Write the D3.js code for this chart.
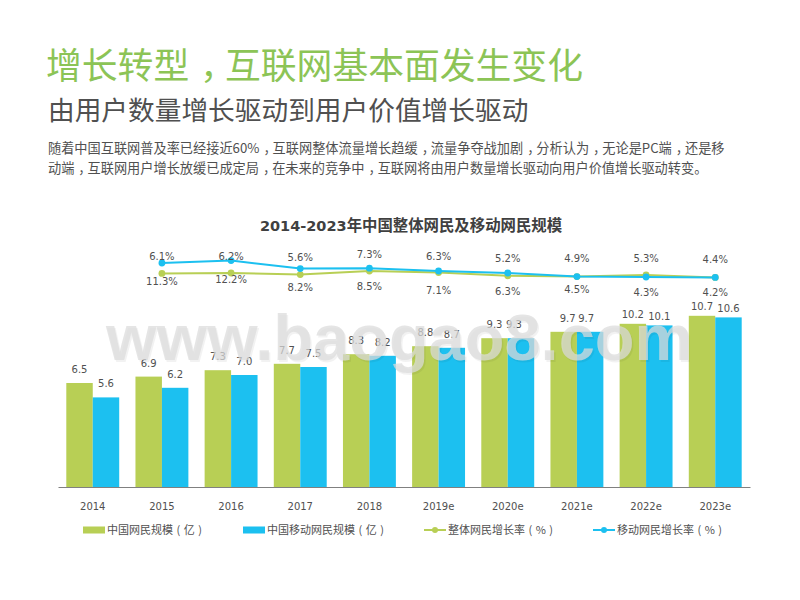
<!DOCTYPE html>
<html>
<head>
<meta charset="utf-8">
<script src="https://cdn.jsdelivr.net/npm/d3@7"></script>
<style>
  html, body { margin: 0; padding: 0; background: #fff; }
  svg { display: block; }
  text { font-family: "Noto Sans CJK SC", "DejaVu Sans", sans-serif; }
  .num { font-family: "DejaVu Sans", sans-serif; font-size: 10px; fill: #505050; }
</style>
</head>
<body>
<div id="chart"></div>
<script>
const years = ['2014', '2015', '2016', '2017', '2018', '2019e', '2020e', '2021e', '2022e', '2023e'];
const netUsers = [6.5, 6.9, 7.3, 7.7, 8.3, 8.8, 9.3, 9.7, 10.2, 10.7];
const mobileUsers = [5.6, 6.2, 7.0, 7.5, 8.2, 8.7, 9.3, 9.7, 10.1, 10.6];
const netLabelDx = [0, 0, 0, 0, 0, 0, 0, 4, 0, 0];
const mobileLabelDx = [0, 0, 0, 0, 0, 0, -7, -4, 0, 0];
const lineYears = ['2015', '2016', '2017', '2018', '2019e', '2020e', '2021e', '2022e', '2023e'];
const netRateLabels = ['11.3%', '12.2%', '8.2%', '8.5%', '7.1%', '6.3%', '4.5%', '4.3%', '4.2%'];
const mobileRateLabels = ['6.1%', '6.2%', '5.6%', '7.3%', '6.3%', '5.2%', '4.9%', '5.3%', '4.4%'];
// heights of the two lines as drawn, they do not follow the printed rates
const netRateLine = [2.9, 3.0, 2.6, 3.5, 3.1, 2.3, 2.1, 2.5, 1.9];
const mobileRateLine = [5.5, 6.1, 4.1, 4.2, 3.5, 3.0, 2.1, 2.0, 1.9];
const netLabelDy = [12, 10, 16, 19, 21, 19, 16, 21, 19];
const mobileLabelDy = [-3, -1, -8, -10, -11, -11, -15, -15, -14];

const green = '#b8cf55';
const blue = '#1cc0f0';

const width = 800;
const height = 600;
const margin = { left: 58, right: 50, bottom: 113 };

const svg = d3.select('#chart').append('svg')
  .attr('width', width)
  .attr('height', height);

// the reference centres its full-width commas in the cell
const headerText = (x, y, size, color, str) => {
  const t = svg.append('text').attr('x', x).attr('y', y)
    .attr('font-size', size).attr('fill', color);
  str.split('，').forEach((part, i) => {
    if (i > 0) t.append('tspan').attr('dx', size * 0.3).text('，');
    t.append('tspan').attr('dx', i > 0 ? -size * 0.3 : 0).text(part);
  });
};

headerText(46, 79, 35.8, '#8cc456', '增长转型，互联网基本面发生变化');
headerText(48, 120, 26.7, '#505050', '由用户数量增长驱动到用户价值增长驱动');
headerText(48, 153, 13.2, '#505050', '随着中国互联网普及率已经接近60%，互联网整体流量增长趋缓，流量争夺战加剧，分析认为，无论是PC端，还是移');
headerText(48, 173, 13.2, '#505050', '动端，互联网用户增长放缓已成定局，在未来的竞争中，互联网将由用户数量增长驱动向用户价值增长驱动转变。');

const chartTitle = svg.append('text').attr('x', 411).attr('y', 231)
  .attr('text-anchor', 'middle')
  .attr('font-weight', 'bold').attr('fill', '#404040');
chartTitle.append('tspan').attr('font-size', 14.5)
  .style('font-family', '"DejaVu Sans", sans-serif')
  .text('2014-2023');
chartTitle.append('tspan').attr('font-size', 15.4)
  .text('年中国整体网民及移动网民规模');

// bars
const xScale = d3.scaleBand()
  .domain(years)
  .range([margin.left, width - margin.right])
  .paddingInner(0.235)
  .paddingOuter(0.12);
const xSeries = d3.scaleBand()
  .domain(['net', 'mobile'])
  .range([0, xScale.bandwidth()]);
const yScale = d3.scaleLinear()
  .domain([0, 12])
  .range([height - margin.bottom, height - margin.bottom - 192]);

const groups = [
  { key: 'net', values: netUsers, color: green, dx: netLabelDx },
  { key: 'mobile', values: mobileUsers, color: blue, dx: mobileLabelDx }
];

groups.forEach(s => {
  svg.selectAll('.bar-' + s.key)
    .data(s.values)
    .enter()
    .append('rect')
    .attr('class', 'bar-' + s.key)
    .attr('x', (d, i) => xScale(years[i]) + xSeries(s.key))
    .attr('y', d => yScale(d))
    .attr('width', xSeries.bandwidth())
    .attr('height', d => yScale(0) - yScale(d))
    .attr('fill', s.color);

  svg.selectAll('.bar-label-' + s.key)
    .data(s.values)
    .enter()
    .append('text')
    .attr('class', 'num')
    .attr('x', (d, i) => xScale(years[i]) + xSeries(s.key) + xSeries.bandwidth() / 2 + s.dx[i])
    .attr('y', d => yScale(d) - (d >= 10 ? 5.5 : 10))
    .attr('text-anchor', 'middle')
    .text(d => d.toFixed(1));
});

// x axis
const xAxis = d3.axisBottom(xScale).tickSize(0).tickPadding(16);
const axisG = svg.append('g')
  .attr('transform', `translate(0,${yScale(0)})`)
  .call(xAxis);
axisG.select('.domain').attr('stroke', '#808080').attr('stroke-width', 1);
axisG.selectAll('text')
  .attr('class', 'num')
  .style('font-family', '"DejaVu Sans", sans-serif')
  .style('font-size', '10px');

// rate lines
const rateY = d3.scaleLinear().domain([0, 8]).range([285, 253]);
const lineX = d => xScale(d) + xScale.bandwidth() / 2;
const lineGen = d3.line()
  .x((d, i) => lineX(lineYears[i]))
  .y(d => rateY(d));

const rates = [
  { key: 'netRate', values: netRateLine, color: green, labels: netRateLabels, dy: netLabelDy },
  { key: 'mobileRate', values: mobileRateLine, color: blue, labels: mobileRateLabels, dy: mobileLabelDy }
];

rates.forEach(s => {
  svg.append('path')
    .datum(s.values)
    .attr('fill', 'none')
    .attr('stroke', s.color)
    .attr('stroke-width', 2)
    .attr('d', lineGen);
  svg.selectAll('.dot-' + s.key)
    .data(s.values)
    .enter()
    .append('circle')
    .attr('class', 'dot-' + s.key)
    .attr('cx', (d, i) => lineX(lineYears[i]))
    .attr('cy', d => rateY(d))
    .attr('r', 3.4)
    .attr('fill', s.color);
  svg.selectAll('.rate-label-' + s.key)
    .data(s.labels)
    .enter()
    .append('text')
    .attr('class', 'num')
    .attr('x', (d, i) => lineX(lineYears[i]))
    .attr('y', (d, i) => rateY(s.values[i]) + s.dy[i])
    .attr('text-anchor', 'middle')
    .text(d => d);
});

// legend
const legendItems = [
  { x: 83, label: '中国网民规模', unit: '亿', color: green, type: 'bar' },
  { x: 243, label: '中国移动网民规模', unit: '亿', color: blue, type: 'bar' },
  { x: 424, label: '整体网民增长率', unit: '%', color: green, type: 'line' },
  { x: 593, label: '移动网民增长率', unit: '%', color: blue, type: 'line' }
];
const legendY = 530;
legendItems.forEach(item => {
  if (item.type === 'bar') {
    svg.append('rect').attr('x', item.x).attr('y', legendY - 3.5)
      .attr('width', 22).attr('height', 7).attr('fill', item.color);
  } else {
    svg.append('line').attr('x1', item.x).attr('x2', item.x + 22)
      .attr('y1', legendY).attr('y2', legendY)
      .attr('stroke', item.color).attr('stroke-width', 2);
    svg.append('circle').attr('cx', item.x + 11).attr('cy', legendY)
      .attr('r', 3).attr('fill', item.color);
  }
  const t = svg.append('text').attr('x', item.x + 24).attr('y', legendY + 4)
    .attr('font-size', 11).attr('fill', '#505050');
  t.append('tspan').text(item.label);
  t.append('tspan').attr('dx', 3.5).text('(');
  t.append('tspan').attr('dx', 3.5).text(item.unit);
  t.append('tspan').attr('dx', 3.5).text(')');
});

// watermark sits over everything
[{ dx: 1.5, fill: '#000000', opacity: 0.05 }, { dx: 0, fill: '#dcdcdc', opacity: 0.73 }].forEach(m => {
  svg.append('text').attr('x', 106 + m.dx).attr('y', 360 + m.dx)
    .attr('font-size', 65).attr('font-weight', 'bold')
    .style('font-family', '"Liberation Sans", sans-serif')
    .attr('fill', m.fill).attr('fill-opacity', m.opacity)
    .text('www.baogao8.com');
});
</script>
</body>
</html>
